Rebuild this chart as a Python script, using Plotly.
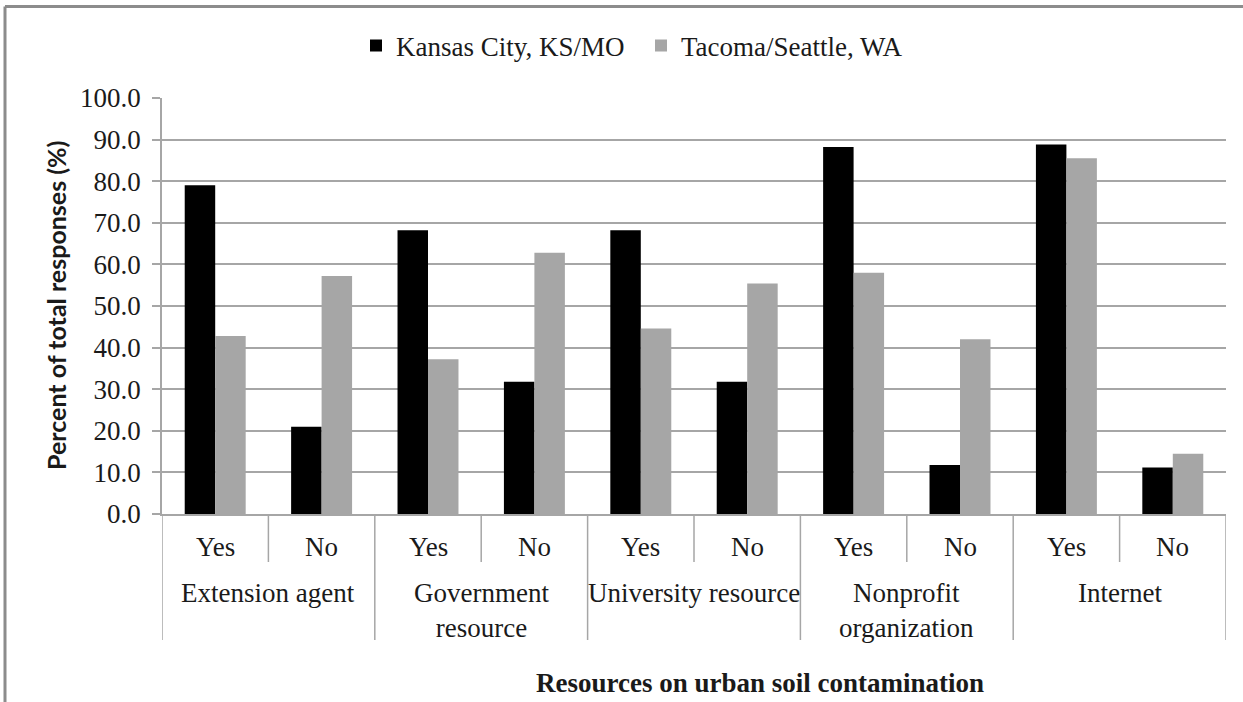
import plotly.graph_objects as go

# Data
groups = ["Extension agent", "Government<br>resource", "University resource",
          "Nonprofit<br>organization", "Internet"]
answers = ["Yes", "No"]
kansas = [79.0, 21.0, 68.2, 31.8, 68.2, 31.8, 88.2, 11.8, 88.8, 11.2]
tacoma = [42.8, 57.2, 37.2, 62.8, 44.6, 55.4, 58.0, 42.0, 85.5, 14.5]
y_ticks = [0, 10, 20, 30, 40, 50, 60, 70, 80, 90, 100]

sub_labels = [a for g in groups for a in answers]
x_pos = list(range(len(sub_labels)))

W, H = 1243, 702
L, R, T, B = 162, 17, 98, 188
PW, PH = W - L - R, H - T - B

def px_x(px):
    return (px - L) / PW

def px_y(py):
    return (H - B - py) / PH

SERIF = "Liberation Serif, Times New Roman, serif"
FS = 27
GRID = "#a6a6a6"
TXT = "#1a1a1a"

fig = go.Figure()
fig.add_trace(go.Bar(x=x_pos, y=kansas, name="Kansas City, KS/MO",
                     marker=dict(color="#000000", line=dict(width=0))))
fig.add_trace(go.Bar(x=x_pos, y=tacoma, name="Tacoma/Seattle, WA",
                     marker=dict(color="#a6a6a6", line=dict(width=0))))

fig.update_layout(
    width=W, height=H,
    margin=dict(l=L, r=R, t=T, b=B),
    paper_bgcolor="white", plot_bgcolor="white",
    barmode="group", bargap=0.427, bargroupgap=0,
    font=dict(family=SERIF, size=FS, color=TXT),
    legend=dict(orientation="h", x=px_x(356), xanchor="left",
                y=px_y(46), yanchor="middle",
                font=dict(family=SERIF, size=FS, color=TXT),
                entrywidth=240, bgcolor="rgba(0,0,0,0)"),
)

fig.update_xaxes(range=[-0.5, len(sub_labels) - 0.5], showticklabels=False,
                 showgrid=False, zeroline=False, showline=True,
                 linecolor=GRID, linewidth=1.5, ticks="")
fig.update_yaxes(range=[0, 100], tickvals=y_ticks, tickformat=".1f",
                 showgrid=True, gridcolor=GRID, gridwidth=1.5,
                 zeroline=False, showline=True, linecolor=GRID, linewidth=1.5,
                 ticks="outside", ticklen=8, tickcolor=GRID, tickwidth=1.5,
                 ticklabelstandoff=6,
                 tickfont=dict(family=SERIF, size=FS, color=TXT))

# category labels
for i, s in enumerate(sub_labels):
    fig.add_annotation(x=i, xref="x", y=0, yref="paper", yshift=-33,
                       text=s, showarrow=False, yanchor="middle",
                       font=dict(family=SERIF, size=FS, color=TXT))
for g, name in enumerate(groups):
    fig.add_annotation(x=2 * g + 0.5, xref="x", y=0, yref="paper", yshift=-62,
                       text=name, showarrow=False, yanchor="top",
                       font=dict(family=SERIF, size=FS, color=TXT))
    # inner divider between Yes / No
    fig.add_shape(type="line", xref="x", yref="paper",
                  x0=2 * g + 0.5, x1=2 * g + 0.5, y0=0, y1=px_y(562),
                  line=dict(color=GRID, width=1.5))

# group dividers
for k in range(len(groups) + 1):
    xv = 2 * k - 0.5
    fig.add_shape(type="line", xref="x", yref="paper",
                  x0=xv, x1=xv, y0=0, y1=px_y(640),
                  line=dict(color=GRID, width=1.5))

# axis titles
fig.add_annotation(x=px_x(56), xref="paper", y=0.5, yref="paper",
                   text="<b>Percent of total responses (%)</b>", textangle=-90,
                   showarrow=False, xanchor="center", yanchor="middle",
                   font=dict(family="Lato, sans-serif", size=25, color=TXT))
fig.add_annotation(x=px_x(760), xref="paper", y=px_y(683), yref="paper",
                   text="<b>Resources on urban soil contamination</b>",
                   showarrow=False, xanchor="center", yanchor="middle",
                   font=dict(family=SERIF, size=FS, color=TXT))

# chart-area border (left and top edges visible)
fig.add_shape(type="line", xref="paper", yref="paper",
              x0=px_x(5), x1=px_x(5), y0=px_y(H + 5), y1=px_y(6.5),
              line=dict(color="#8c8c8c", width=3))
fig.add_shape(type="line", xref="paper", yref="paper",
              x0=px_x(5), x1=px_x(W + 5), y0=px_y(6.5), y1=px_y(6.5),
              line=dict(color="#8c8c8c", width=3))

# page body has a default 8px margin; drop it so the figure sits at 0,0
fig.write_html("out.html", config={"displayModeBar": False},
               post_script="document.body.style.margin='0px';")
